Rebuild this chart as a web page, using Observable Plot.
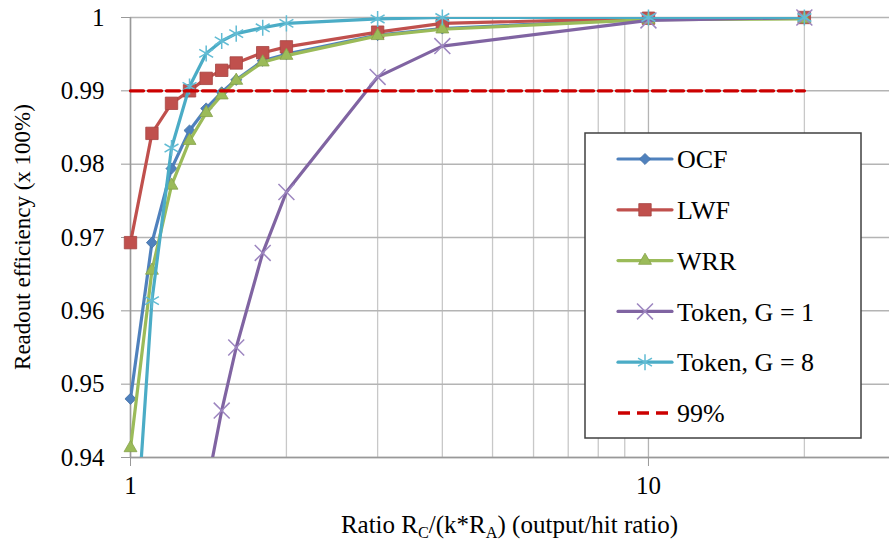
<!DOCTYPE html>
<html><head><meta charset="utf-8">
<script src="https://cdn.jsdelivr.net/npm/d3@7"></script>
<script src="https://cdn.jsdelivr.net/npm/@observablehq/plot@0.6"></script>
<style>html,body{margin:0;padding:0;background:#fff;}
svg text{font-family:"Liberation Serif","DejaVu Serif","Times New Roman","Noto Serif",serif !important;}</style>
</head><body><div id="chart"></div>
<script>
// ---- data ----
const xValues = [1, 1.1, 1.2, 1.3, 1.4, 1.5, 1.6, 1.8, 2, 3, 4, 10, 20];
const ocf    = [0.9480, 0.9693, 0.9794, 0.9846, 0.9876, 0.9898, 0.9915, 0.9941, 0.9950, 0.9976, 0.9985, 0.9998, 1.0000];
const lwf    = [0.9693, 0.9842, 0.9883, 0.9900, 0.9917, 0.9928, 0.9938, 0.9952, 0.9960, 0.9980, 0.9992, 0.9999, 1.0000];
const wrr    = [0.9413, 0.9655, 0.9771, 0.9832, 0.9870, 0.9894, 0.9914, 0.9939, 0.9948, 0.9975, 0.9984, 0.9997, 0.9998];
const token1 = [null, null, null, null, 0.9355, 0.9464, 0.9550, 0.9679, 0.9762, 0.9919, 0.9961, 0.9996, 1.0000];
const token8 = [0.9180, 0.9614, 0.9822, 0.9906, 0.9951, 0.9968, 0.9978, 0.9986, 0.9992, 0.9998, 1.0000, 1.0000, 1.0000];
const thresholdX = [1, 20];
const thresholdY = 0.99;
const seriesNames = ["OCF", "LWF", "WRR", "Token, G = 1", "Token, G = 8", "99%"];
const yTicks = [0.94, 0.95, 0.96, 0.97, 0.98, 0.99, 1];
const xMajorTicks = [1, 10];
const xMinorTicks = [2, 3, 4, 5, 6, 7, 8, 9, 20];

// ---- styling ----
const FONT = '"Liberation Serif", "DejaVu Serif", "Noto Serif", serif';
const FS = 25;
const W = 889, H = 545;
const mL = 130, mR = 0, mT = 17, mB = 88;
const series = [
  {name: seriesNames[0], values: ocf,    color: "#4F81BD", symbol: "diamond2", d3sym: d3.symbolDiamond2, r: 5,   fill: true},
  {name: seriesNames[1], values: lwf,    color: "#C0504D", symbol: "square",   d3sym: d3.symbolSquare,   r: 7,   fill: true},
  {name: seriesNames[2], values: wrr,    color: "#9BBB59", symbol: "triangle", d3sym: d3.symbolTriangle, r: 4.8, fill: true},
  {name: seriesNames[3], values: token1, color: "#8064A2", symbol: "times",    d3sym: d3.symbolTimes,    r: 7.3, fill: false, mcolor: "#9d86c0"},
  {name: seriesNames[4], values: token8, color: "#4BACC6", symbol: "asterisk", d3sym: d3.symbolAsterisk, r: 7.6, fill: false, mcolor: "#62bcd4"}
];
const RED = "#CC0000";

const marks = [
  Plot.gridX(xMinorTicks, {stroke: "#c8c8c8", strokeOpacity: 1, strokeWidth: 1.3}),
  Plot.gridX(xMajorTicks, {stroke: "#b4b4b4", strokeOpacity: 1, strokeWidth: 1.3}),
  Plot.gridY(yTicks, {stroke: "#b4b4b4", strokeOpacity: 1, strokeWidth: 1.5}),
  Plot.axisY(yTicks, {tickSize: 9, tickPadding: 17, stroke: "#999", label: null, fontSize: FS,
    tickFormat: d => d === 1 ? "1" : d.toFixed(2)}),
  Plot.axisX(xMajorTicks, {tickSize: 9, tickPadding: 10, stroke: "#999", label: null, fontSize: FS,
    tickFormat: d => String(d)}),
  Plot.ruleY([0.94], {stroke: "#999", strokeWidth: 1.5}),
  Plot.ruleX([1], {stroke: "#999", strokeWidth: 1.5})
];
for (const s of series) {
  const data = xValues.map((x, i) => ({x, y: s.values[i]}));
  marks.push(Plot.line(data, {x: "x", y: "y", stroke: s.color, strokeWidth: 3.2, curve: "linear", strokeLinejoin: "round", clip: true}));
  const pts = data.filter(d => d.y != null && d.y >= 0.94);
  if (s.fill) {
    marks.push(Plot.dot(pts, {x: "x", y: "y", symbol: s.symbol, r: s.r, fill: s.color, stroke: d3.color(s.color).darker(0.4).formatHex(), strokeWidth: 0.8}));
  } else {
    marks.push(Plot.dot(pts, {x: "x", y: "y", symbol: s.symbol, r: s.r, stroke: s.mcolor, strokeWidth: 1.5, fill: "none"}));
  }
}
marks.push(Plot.line(thresholdX.map(x => ({x, y: thresholdY})), {x: "x", y: "y", stroke: RED, strokeWidth: 3.4, strokeDasharray: "13,5"}));

const plot = Plot.plot({
  width: W, height: H,
  marginLeft: mL, marginRight: mR, marginTop: mT, marginBottom: mB,
  x: {type: "log", domain: [1, 29.2]},
  y: {domain: [0.94, 1]},
  style: {fontFamily: FONT, fontSize: FS + "px", color: "#000", background: "#fff", overflow: "visible"},
  marks
});
document.getElementById("chart").appendChild(plot);

// ---- titles and legend ----
const svg = d3.select(plot);
const xl = svg.append("text")
  .attr("x", (mL + W - mR) / 2).attr("y", 533)
  .attr("text-anchor", "middle").attr("font-size", FS).attr("fill", "#000");
xl.append("tspan").text("Ratio R");
xl.append("tspan").attr("font-size", FS * 0.65).attr("dy", 5).text("C");
xl.append("tspan").attr("dy", -5).text("/(k*R");
xl.append("tspan").attr("font-size", FS * 0.65).attr("dy", 5).text("A");
xl.append("tspan").attr("dy", -5).text(") (output/hit ratio)");

svg.append("text")
  .attr("transform", `translate(30,${(mT + H - mB) / 2}) rotate(-90)`)
  .attr("text-anchor", "middle").attr("font-size", 23).attr("fill", "#000")
  .text("Readout efficiency (x 100%)");

const lg = svg.append("g");
const box = {x: 585, y: 133, w: 276, h: 305};
lg.append("rect").attr("x", box.x).attr("y", box.y).attr("width", box.w).attr("height", box.h)
  .attr("fill", "#fff").attr("stroke", "#404040").attr("stroke-width", 1.5);
const rowY0 = 159, rowStep = 50.8, lx0 = 618, lx1 = 672, tx = 677;
series.forEach((s, i) => {
  const y = rowY0 + i * rowStep;
  lg.append("line").attr("x1", lx0).attr("x2", lx1).attr("y1", y).attr("y2", y)
    .attr("stroke", s.color).attr("stroke-width", 3.2).attr("stroke-linecap", "round");
  const p = lg.append("path").attr("transform", `translate(${(lx0 + lx1) / 2},${y})`)
    .attr("d", d3.symbol(s.d3sym, Math.PI * s.r * s.r)());
  if (s.fill) p.attr("fill", s.color).attr("stroke", d3.color(s.color).darker(0.4).formatHex()).attr("stroke-width", 0.8);
  else p.attr("fill", "none").attr("stroke", s.mcolor).attr("stroke-width", 1.5);
  lg.append("text").attr("x", tx).attr("y", y).attr("dy", "0.35em").attr("text-anchor", "start")
    .attr("font-size", FS + 1).attr("fill", "#000").text(s.name);
});
{
  const y = rowY0 + 5 * rowStep;
  lg.append("line").attr("x1", lx0).attr("x2", lx1 - 4).attr("y1", y).attr("y2", y)
    .attr("stroke", RED).attr("stroke-width", 3.4).attr("stroke-dasharray", "12,7");
  lg.append("text").attr("x", tx).attr("y", y).attr("dy", "0.35em").attr("text-anchor", "start")
    .attr("font-size", FS + 1).attr("fill", "#000").text(seriesNames[5]);
}
</script></body></html>
